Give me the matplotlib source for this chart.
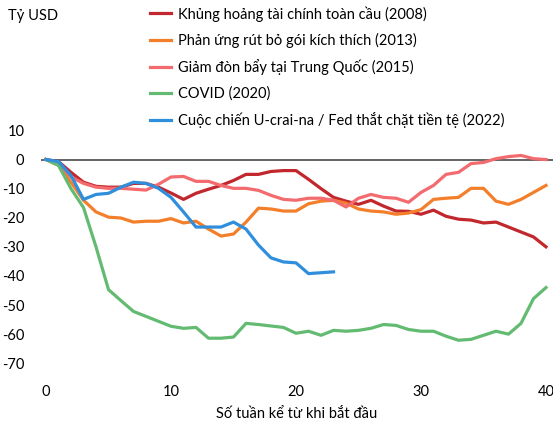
import matplotlib
matplotlib.use("Agg")
import matplotlib.pyplot as plt
import numpy as np

plt.rcParams['font.family'] = ['Lato', 'DejaVu Sans']
plt.rcParams['axes.unicode_minus'] = False

# Weekly cumulative flows, billions of USD
gfc_2008 = [0, -0.7, -4.4, -7.8, -9.2, -9.5, -9.5, -8.2, -8.2, -9.5, -11.5,
            -13.7, -11.6, -10.2, -8.9, -7.2, -5.1, -5.1, -4.1, -3.8, -3.8,
            -6.8, -10, -13, -14.3, -15.4, -14, -16, -17.7, -17.8, -18.8,
            -17.4, -19.5, -20.5, -20.8, -21.8, -21.5, -23.2, -24.9, -26.6, -30]
taper_2013 = [0, -2, -7.8, -14, -18, -19.8, -20.1, -21.5, -21.2, -21.2, -20.3,
              -21.8, -21.2, -23.9, -26.3, -25.6, -21.5, -16.7, -17, -17.7, -17.7,
              -15.2, -14.3, -14, -15, -17, -17.7, -18, -18.8, -18.4, -17.2,
              -13.7, -13.3, -13, -9.9, -9.9, -14.3, -15.4, -13.7, -11.3, -8.9]
china_2015 = [0, -1.4, -6, -8.2, -9.5, -9.9, -9.9, -10.2, -10.5, -8.5, -6,
              -5.8, -7.5, -7.5, -8.9, -9.9, -9.9, -10.6, -12.3, -13.7, -14,
              -13.3, -13.3, -14, -16.3, -13.3, -12, -13, -13.3, -14.7, -11.3,
              -8.9, -5.1, -4.4, -1.4, -1, 0.3, 1, 1.4, 0.3, 0]
covid_2020 = [0, -2, -10, -16.5, -30, -44.7, -48.5, -52.2, -53.9, -55.6, -57.3,
              -58, -57.7, -61.4, -61.4, -61, -56.3, -56.7, -57.2, -57.7, -59.7,
              -59, -60.4, -58.7, -59, -58.7, -58, -56.7, -57, -58.4, -59,
              -59, -60.7, -62.1, -61.8, -60.4, -59, -60, -56.3, -47.8, -44]
ukraine_2022 = [0, -0.7, -5.5, -13.7, -12, -11.6, -9.5, -7.8, -8.2, -9.9, -13,
                -18, -23.2, -23.2, -23.2, -21.5, -23.9, -29.4, -33.8, -35.2, -35.5,
                -39.2, -38.9, -38.6]

series = [
    ("Khủng hoảng tài chính toàn cầu (2008)", gfc_2008, "#c1272d"),
    ("Phản ứng rút bỏ gói kích thích (2013)", taper_2013, "#f47f2a"),
    ("Giảm đòn bẩy tại Trung Quốc (2015)", china_2015, "#f36b6e"),
    ("COVID (2020)", covid_2020, "#63bb72"),
    ("Cuộc chiến U-crai-na / Fed thắt chặt tiền tệ (2022)", ukraine_2022, "#2f8fdc"),
]

fig = plt.figure(figsize=(5.53, 4.23), dpi=100)
ax = fig.add_axes([41 / 553, 0.1069, 1 - 41 / 553, 0.7054 - 0.1069])

ax.axhline(0, color="#3a3a3a", lw=1.1, zorder=1)
for label, vals, col in series:
    ax.plot(np.arange(len(vals)), vals, color=col, lw=2.3, label=label,
            solid_joinstyle="round", zorder=2)

ax.set_xlim(-0.4, 40.56)
ax.set_ylim(-75, 12)
ax.set_xticks([0, 10, 20, 30, 40])
ax.set_yticks(np.arange(-70, 11, 10))
ax.tick_params(length=0, labelsize=10.5, colors="black")
ax.tick_params(axis="y", pad=12)
ax.tick_params(axis="x", pad=5)
for s in ax.spines.values():
    s.set_visible(False)
ax.set_xlabel("Số tuần kể từ khi bắt đầu", fontsize=10.5, labelpad=6)

fig.text(8 / 553, 1 - 16 / 423, "Tỷ USD", fontsize=10.5, va="center", ha="left")

fig.legend(loc="upper left", bbox_to_anchor=(150 / 553, 1 - 6 / 423),
           frameon=False, fontsize=10.5, handlelength=1.45, handletextpad=0.45,
           labelspacing=0.78, borderpad=0, borderaxespad=0)

fig.savefig("out.png", dpi=100)
